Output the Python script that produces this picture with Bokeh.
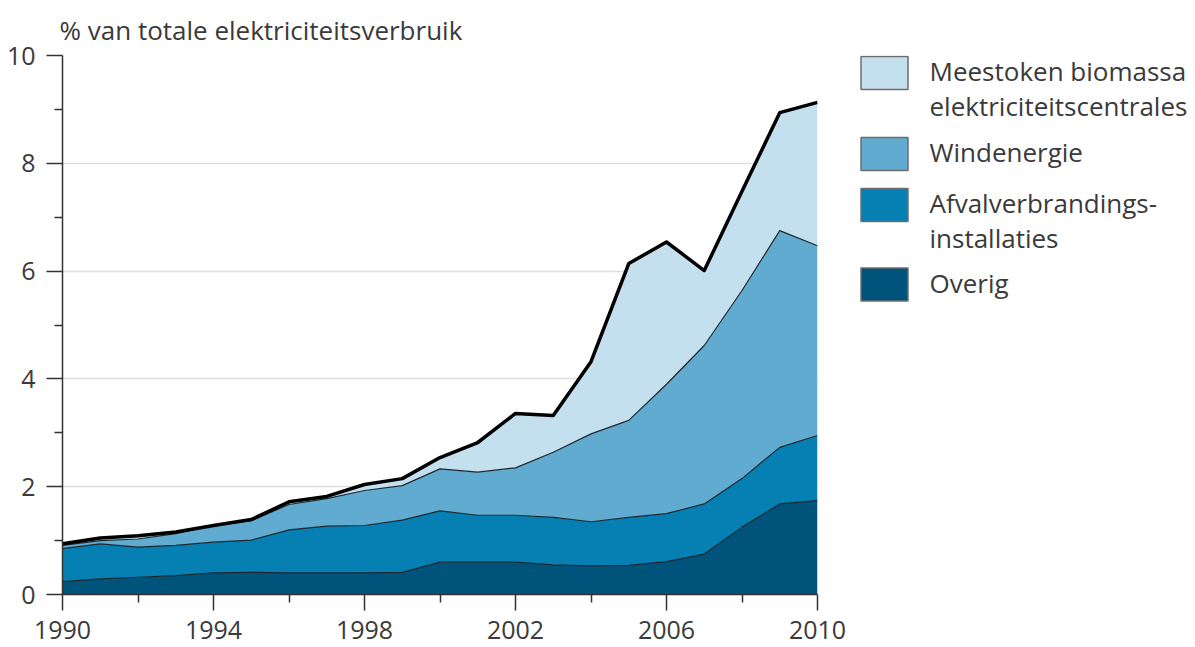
import pandas as pd
from bokeh.plotting import figure
from bokeh.models import ColumnDataSource, Range1d, FixedTicker
from bokeh.layouts import row
from bokeh.embed import file_html
from bokeh.resources import INLINE
from bokeh.core.properties import value

# ---------------- data ----------------
years = list(range(1990, 2011))
overig = [0.24, 0.29, 0.32, 0.35, 0.40, 0.41, 0.40, 0.40, 0.40, 0.41, 0.60,
          0.60, 0.60, 0.55, 0.53, 0.54, 0.61, 0.75, 1.25, 1.68, 1.74]
afval = [0.61, 0.65, 0.56, 0.56, 0.57, 0.60, 0.80, 0.87, 0.88, 0.97, 0.95,
         0.87, 0.87, 0.88, 0.82, 0.89, 0.89, 0.93, 0.90, 1.05, 1.21]
wind = [0.06, 0.06, 0.15, 0.22, 0.31, 0.36, 0.47, 0.51, 0.65, 0.64, 0.78,
        0.80, 0.88, 1.21, 1.63, 1.80, 2.40, 2.94, 3.49, 4.02, 3.52]
biomassa = [0.03, 0.05, 0.06, 0.03, 0.00, 0.02, 0.05, 0.04, 0.11, 0.13, 0.21,
            0.55, 1.01, 0.68, 1.34, 2.91, 2.64, 1.39, 1.84, 2.19, 2.66]

series_keys = ["overig", "afval", "wind", "biomassa"]
series_labels = ["Overig", "Afvalverbrandings-\ninstallaties", "Windenergie",
                 "Meestoken biomassa\nelektriciteitscentrales"]
series_colors = ["#00537a", "#0680b3", "#60abcf", "#c4dfee"]

x_ticks = [1990, 1994, 1998, 2002, 2006, 2010]
x_minor = [1992, 1996, 2000, 2004, 2008]
y_ticks = [0, 2, 4, 6, 8, 10]
y_minor = [1, 3, 5, 7, 9]
y_title = "% van totale elektriciteitsverbruik"

FONT = "Open Sans"
TXT = "#3a3a3a"

df = pd.DataFrame({"year": years, "overig": overig, "afval": afval,
                   "wind": wind, "biomassa": biomassa})
src = ColumnDataSource(df)

# layout geometry (pixels)
TOTAL_W, H = 1195, 647
F_LEFT, F_TOP, F_RIGHT, F_BOTTOM = 62, 55, 817, 594
W = F_RIGHT + 35

# ---------------- main chart ----------------
p = figure(width=W, height=H, x_range=Range1d(1990, 2010), y_range=Range1d(0, 10),
           toolbar_location=None, output_backend="svg",
           min_border_left=F_LEFT, min_border_right=W - F_RIGHT,
           min_border_top=F_TOP, min_border_bottom=H - F_BOTTOM)
p.outline_line_color = None
p.background_fill_color = "white"

p.title.text = y_title
p.title.align = "left"
p.title.offset = -3
p.title.standoff = 15
p.title.text_font = FONT
p.title.text_font_size = "26px"
p.title.text_font_style = "normal"
p.title.text_color = TXT

p.varea_stack(stackers=series_keys, x="year", color=series_colors, source=src)
lines = p.vline_stack(stackers=series_keys, x="year", source=src,
                      line_color="#1c2830", line_width=1.2)
lines[-1].glyph.line_color = "black"
lines[-1].glyph.line_width = 3.5
lines[-1].glyph.line_join = "round"

p.xaxis.ticker = FixedTicker(ticks=x_ticks, minor_ticks=x_minor)
p.yaxis.ticker = FixedTicker(ticks=y_ticks, minor_ticks=y_minor)
for ax in (p.xaxis, p.yaxis):
    ax.axis_line_color = "#333333"
    ax.axis_line_width = 1.5
    ax.major_tick_line_color = "#333333"
    ax.major_tick_line_width = 1.5
    ax.minor_tick_line_color = "#333333"
    ax.minor_tick_line_width = 1.5
    ax.major_tick_in = 0
    ax.major_tick_out = 16
    ax.minor_tick_in = 0
    ax.minor_tick_out = 8
    ax.major_label_text_font = FONT
    ax.major_label_text_font_size = "25px"
    ax.major_label_text_color = TXT
p.xaxis.major_label_standoff = 10
p.yaxis.major_label_standoff = 11

p.xgrid.visible = False
p.ygrid.grid_line_color = "#dedede"
p.ygrid.grid_line_width = 1.5

# ---------------- legend panel (page pixel coordinates) ----------------
LW = TOTAL_W - W
leg = figure(width=LW, height=H, x_range=Range1d(W, TOTAL_W),
             y_range=Range1d(F_BOTTOM, F_TOP),
             toolbar_location=None, output_backend="svg",
             x_axis_location=None, y_axis_location=None,
             min_border_left=0, min_border_right=0,
             min_border_top=F_TOP, min_border_bottom=H - F_BOTTOM)
leg.outline_line_color = None
leg.grid.visible = False

order = [3, 2, 1, 0]
swatch_y = [72.5, 153.5, 204.5, 284]
sw = dict(x=[], y=[], color=[])
tx = dict(x=[], y=[], text=[])
for slot, idx in enumerate(order):
    sw["x"].append(884)
    sw["y"].append(swatch_y[slot])
    sw["color"].append(series_colors[idx])
    for k, line in enumerate(series_labels[idx].split("\n")):
        tx["x"].append(929)
        tx["y"].append(swatch_y[slot] - 2 + 35 * k)
        tx["text"].append(line)

leg.rect(x="x", y="y", width=47, height=33, fill_color="color",
         line_color="#6e6e6e", line_width=1.5, source=ColumnDataSource(sw))
leg.text(x="x", y="y", text="text", text_font=value(FONT), text_font_size="26px",
         text_color=TXT, text_baseline="middle", text_align="left",
         source=ColumnDataSource(tx))

layout = row(p, leg)
open("out.html", "w").write(file_html(layout, INLINE))
